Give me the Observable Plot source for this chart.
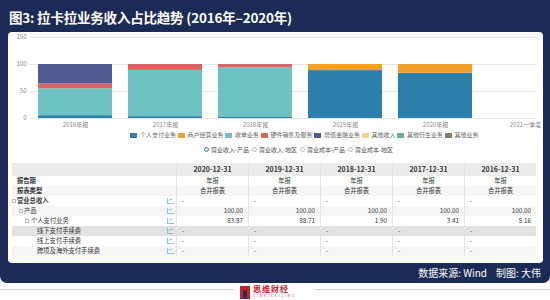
<!DOCTYPE html>
<html><head><meta charset="utf-8">
<script src="https://cdn.jsdelivr.net/npm/d3@7"></script>
<script src="https://cdn.jsdelivr.net/npm/@observablehq/plot@0.6"></script>
<style>
html,body{margin:0;padding:0;background:#fff;}
body{width:550px;height:300px;position:relative;overflow:hidden;font-family:"Noto Sans CJK SC","Noto Sans",sans-serif;}
#navy{position:absolute;left:0;top:0;width:550px;height:283px;background:#1c2b55;border-radius:0 0 7px 7px;}
#title{position:absolute;left:9px;top:7px;color:#fff;font-size:13.5px;font-weight:700;letter-spacing:-0.2px;white-space:nowrap;}
#panel{position:absolute;left:8px;top:32px;width:535px;height:231px;background:#fff;border-radius:4px;}
#chart{position:absolute;left:0;top:30px;}
#legend{position:absolute;left:130px;top:132px;display:flex;font-size:6px;color:#666;white-space:nowrap;line-height:6px;height:6px;}
#legend .it{display:flex;align-items:center;margin-right:1.5px;}
#legend .sw{width:7px;height:5px;margin-right:3px;}
#radios{position:absolute;left:204px;top:145.5px;display:flex;font-size:6px;color:#555;white-space:nowrap;line-height:7px;}
#radios .it{display:flex;align-items:center;width:48px;}
#radios .rd{width:5px;height:5px;border-radius:50%;border:0.8px solid #bbb;margin-right:2px;box-sizing:border-box;}
#radios .on{border:1.6px solid #2a7ccf;background:#fff;}
#table{position:absolute;left:12px;top:163px;width:524px;font-size:6.3px;color:#333;}
.row{display:flex;height:10px;line-height:10px;}
.row.hd{height:13px;line-height:13px;background:#ececec;font-weight:700;font-size:7px;}
.row.alt{background:#f6f6f6;}
.row.hl{background:#e2e2e2;}
.lab{width:164px;position:relative;white-space:nowrap;}
.cell{width:72px;box-sizing:border-box;border-left:0.5px solid #e4e4e4;padding:0 5px;white-space:nowrap;}
.c{text-align:center;}.r{text-align:right;}.l{text-align:left;}
.box{position:absolute;top:3px;width:4px;height:4px;border:0.6px solid #bbb;box-sizing:border-box;}
.ico{position:absolute;left:155px;top:2px;width:7px;height:6px;border-left:0.8px solid #8cc3d9;border-bottom:0.8px solid #8cc3d9;box-sizing:border-box;}
.ico:after{content:"";position:absolute;left:1px;top:1px;width:4px;height:2px;border-top:0.8px solid #8cc3d9;transform:rotate(-20deg);}
#foot{position:absolute;right:9px;top:265px;color:#fff;font-size:10px;white-space:nowrap;}
#line{position:absolute;left:0;top:289px;width:550px;height:1px;background:#d0d0d0;}
#logo{position:absolute;left:234px;top:284px;width:80px;height:16px;background:#fff;}
#logo .mk{position:absolute;left:6px;top:2px;width:10px;height:13px;background:#c4232c;}
#logo .mk:after{content:"";position:absolute;left:3px;top:4px;width:4px;height:9px;background:#2a2f5a;}
#logo .tx{position:absolute;left:19px;top:0px;font-size:8px;font-weight:700;color:#c4232c;letter-spacing:1px;line-height:10px;}
#logo .sub{position:absolute;left:19px;top:10px;font-size:3px;color:#c4232c;letter-spacing:2px;line-height:4px;}
</style></head>
<body>
<div id="navy"></div>
<div id="title">图3: 拉卡拉业务收入占比趋势 (2016年–2020年)</div>
<div id="panel"></div>
<div id="chart"></div>
<div id="legend"></div>
<div id="radios"></div>
<div id="table"></div>
<div id="foot">数据来源: Wind&nbsp;&nbsp;&nbsp;&nbsp;制图: 大伟</div>
<div id="line"></div>
<div id="logo"><div class="mk"></div><div class="tx">思维财经</div><div class="sub">SIWEICAIJING</div></div>
<script>
// ---- chart data ----
const categories = ["2016年报", "2017年报", "2018年报", "2019年报", "2020年报", "2021一季度"];
const seriesNames = ["个人支付业务", "商户经营业务", "收单业务", "硬件销售及服务", "增值金融业务", "其他收入", "其他衍生业务", "其他业务"];
const seriesColors = ["#2c7fa8", "#f0a02c", "#6dc3c2", "#db6463", "#515a91", "#f5d77c", "#72ac8c", "#8c7a66"];
const personalPay   = [5.16, 3.41, 1.90, 88.71, 83.87];
const merchantOps   = [0, 0, 0, 11.29, 16.13];
const acquiring     = [49.8, 85.6, 92.1, 0, 0];
const hardware      = [9.0, 11.0, 6.0, 0, 0];
const valueFinance  = [36.0, 0, 0, 0, 0];
const otherIncome   = [0, 0, 0, 0, 0];
const otherDerived  = [0, 0, 0, 0, 0];
const otherBusiness = [0, 0, 0, 0, 0];
const yTicks = [0, 50, 100, 150];
const radioLabels = ["营业收入-产品", "营业收入-地区", "营业成本-产品", "营业成本-地区"];

// ---- table data ----
const tableDates = ["2020-12-31", "2019-12-31", "2018-12-31", "2017-12-31", "2016-12-31"];
const reportPeriod = ["年报", "年报", "年报", "年报", "年报"];
const reportType = ["合并报表", "合并报表", "合并报表", "合并报表", "合并报表"];
const totalRevenue = ["-", "-", "-", "-", "-"];
const productRow = ["100.00", "100.00", "100.00", "100.00", "100.00"];
const personalRow = ["83.87", "88.71", "1.90", "3.41", "5.16"];
const offlineFee = ["-", "-", "-", "-", "-"];
const onlineFee = ["-", "-", "-", "-", "-"];
const crossBorderFee = ["-", "-", "-", "-", "-"];

const seriesValues = [personalPay, merchantOps, acquiring, hardware, valueFinance, otherIncome, otherDerived, otherBusiness];
const data = [];
seriesNames.forEach((s, j) => seriesValues[j].forEach((v, i) => { if (v > 0) data.push({cat: categories[i], series: s, value: v}); }));

const chart = Plot.plot({
  width: 550, height: 102,
  marginTop: 7, marginBottom: 14, marginLeft: 30, marginRight: 13,
  style: {background: "transparent", fontFamily: "'Noto Sans CJK SC', sans-serif", fontSize: "6px", color: "#888", overflow: "visible"},
  x: {domain: categories, range: [30, 570], paddingInner: 0.18, paddingOuter: 0.09, axis: null, label: null},
  y: {domain: [0, 150], axis: null, label: null},
  color: {domain: seriesNames, range: seriesColors},
  marks: [
    Plot.ruleY(yTicks, {stroke: "#e6e6e6", strokeWidth: 1}),
    Plot.barY(data, {x: "cat", y: "value", fill: "series"}),
    Plot.axisY({ticks: yTicks, tickSize: 0, tickPadding: 4, fontSize: 6, label: null}),
    Plot.axisX({tickSize: 0, tickPadding: 4, fontSize: 6, label: null})
  ]
});
document.getElementById("chart").appendChild(chart);

// legend
const lg = document.getElementById("legend");
seriesNames.forEach((s, i) => {
  const it = document.createElement("div"); it.className = "it";
  it.innerHTML = `<span class="sw" style="background:${seriesColors[i]}"></span><span>${s}</span>`;
  lg.appendChild(it);
});
// radios
const rd = document.getElementById("radios");
radioLabels.forEach((s, i) => {
  const it = document.createElement("div"); it.className = "it";
  it.innerHTML = `<span class="rd ${i === 0 ? "on" : ""}"></span><span>${s}</span>`;
  rd.appendChild(it);
});
// table
const tb = document.getElementById("table");
function addRow(cls, labelHtml, vals, align) {
  const r = document.createElement("div"); r.className = "row " + cls;
  let h = `<div class="lab">${labelHtml}</div>`;
  vals.forEach(v => { h += `<div class="cell ${align}">${v}</div>`; });
  r.innerHTML = h; tb.appendChild(r);
}
const ico = `<span class="ico"></span>`;
addRow("hd", "", tableDates, "c");
addRow("", `<span style="position:absolute;left:5px;font-weight:700">报告期</span>`, reportPeriod, "c");
addRow("alt", `<span style="position:absolute;left:5px;font-weight:700">报表类型</span>`, reportType, "c");
addRow("", `<span class="box" style="left:0px"></span><span style="position:absolute;left:5px;font-weight:700">营业总收入</span>${ico}`, totalRevenue, "l");
addRow("alt", `<span class="box" style="left:7px"></span><span style="position:absolute;left:12px">产品</span>${ico}`, productRow, "r");
addRow("", `<span class="box" style="left:13px"></span><span style="position:absolute;left:19px">个人支付业务</span>${ico}`, personalRow, "r");
addRow("hl", `<span style="position:absolute;left:25px">线下支付手续费</span>${ico}`, offlineFee, "l");
addRow("", `<span style="position:absolute;left:25px">线上支付手续费</span>${ico}`, onlineFee, "l");
addRow("alt", `<span style="position:absolute;left:25px">跨境及海外支付手续费</span>${ico}`, crossBorderFee, "l");
</script>
</body></html>
